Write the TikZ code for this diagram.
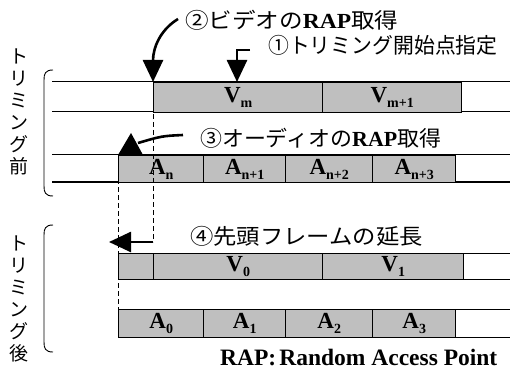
\documentclass[tikz,border=0pt]{standalone}
\usepackage{fontspec}
\usepackage{graphicx}
\setmainfont{Liberation Serif}
\newfontfamily\jp{Noto Sans CJK JP}
\usetikzlibrary{arrows.meta}
\newcommand\sbs[1]{\raisebox{-5pt}{\fontsize{14}{14}\selectfont #1}}
\newcommand\rap{{\rmfamily\bfseries RAP}}
\begin{document}
\begin{tikzpicture}[x=1pt,y=-1pt,
  rowline/.style={line width=1pt},
  frame/.style={draw, line width=1.4pt, fill=black!25, anchor=north west, inner sep=0pt,
    font=\bfseries\fontsize{23}{23}\selectfont},
  jtext/.style={font=\jp\fontsize{21.5}{21.5}\selectfont, inner sep=0pt, anchor=west},
  vlabel/.style={font=\jp\fontsize{19}{22}\selectfont, align=center, inner sep=0pt},
  bigarrow/.style={line width=2.6pt, -{Triangle[length=22pt,width=20pt]}},
  dashline/.style={line width=1pt, dash pattern=on 5pt off 3pt},
  paren/.style={line width=0.9pt}
]
\useasboundingbox (0,0) rectangle (510,371);
% row lines
\draw[rowline] (52,82) -- (510,82);
\draw[rowline] (52,112) -- (510,112);
\draw[rowline] (52,155) -- (510,155);
\draw[rowline] (52,182) -- (510,182);
\draw[rowline] (118,253) -- (510,253);
\draw[rowline] (118,279) -- (510,279);
\draw[rowline] (118,309) -- (510,309);
\draw[rowline] (118,337) -- (510,337);
% row 1: video before
\node[frame, minimum width=169pt, minimum height=30pt] (vm) at (153,82) {V\sbs{m}};
\node[frame, minimum width=139pt, minimum height=30pt] (vm1) at (322,82) {V\sbs{m+1}};
% row 2: audio before
\node[frame, minimum width=85pt, minimum height=27pt] (an) at (118,155) {A\sbs{n}};
\node[frame, minimum width=82pt, minimum height=27pt] (an1) at (203,155) {A\sbs{n+1}};
\node[frame, minimum width=87pt, minimum height=27pt] (an2) at (285,155) {A\sbs{n+2}};
\node[frame, minimum width=83pt, minimum height=27pt] (an3) at (372,155) {A\sbs{n+3}};
% row 3: video after
\node[frame, minimum width=35pt, minimum height=26pt] (ext) at (118,253) {};
\node[frame, minimum width=169pt, minimum height=26pt] (v0) at (153,253) {V\sbs{0}};
\node[frame, minimum width=141pt, minimum height=26pt] (v1) at (322,253) {V\sbs{1}};
% row 4: audio after
\node[frame, minimum width=85pt, minimum height=28pt] (a0) at (118,309) {A\sbs{0}};
\node[frame, minimum width=82pt, minimum height=28pt] (a1) at (203,309) {A\sbs{1}};
\node[frame, minimum width=87pt, minimum height=28pt] (a2) at (285,309) {A\sbs{2}};
\node[frame, minimum width=83pt, minimum height=28pt] (a3) at (372,309) {A\sbs{3}};
% dashed guides
\coordinate (d4) at (153,242);
\coordinate (d4e) at (109,242);
\draw[dashline] (vm.north west) -- (d4);
\draw[dashline] (an.north west) -- (a0.north west);
% arrows
\coordinate (s2) at (178,19);
\draw[bigarrow] (s2) .. controls (160,30) and (153,48) .. (vm.north west);
\coordinate (s1) at (250,50);
\coordinate (t1) at (237,82);
\draw[bigarrow] (s1) -- (237,50) -- (t1);
\coordinate (s3) at (183,135);
\coordinate (t3) at (138,143);
\draw[line width=2.6pt] (s3) .. controls (162,136) .. (t3);
\fill (118,155) -- (143,155) -- (131,133) -- cycle;
\draw[bigarrow] (d4) -- (d4e);
% parens
\draw[paren] (53,70) .. controls (45,70) and (44,74) .. (44,80) -- (44,186) .. controls (44,192) and (45,196) .. (53,196);
\draw[paren] (53,225) .. controls (45,225) and (44,229) .. (44,235) -- (44,342) .. controls (44,348) and (45,352) .. (53,352);
% vertical labels
\node[vlabel] (pre) at (19,112) {ト\\リ\\ミ\\ン\\グ\\前};
\node[vlabel] (post) at (19,299) {ト\\リ\\ミ\\ン\\グ\\後};
% texts
\node[jtext] (t2) at (185,20) {\scalebox{1.095}[1]{②ビデオの\rap 取得}};
\node[jtext] (tx1) at (268,45) {\scalebox{0.97}[1]{①トリミング開始点指定}};
\node[jtext] (tx3) at (200,138) {\scalebox{1.02}[1]{③オーディオの\rap 取得}};
\node[jtext] (tx4) at (190,236) {\scalebox{1.085}[1]{④先頭フレームの延長}};
\node[inner sep=0pt, anchor=west, font=\bfseries\fontsize{23.5}{23.5}\selectfont] (legend) at (220,358) {RAP:\hspace{3pt}Random Access Point};
\end{tikzpicture}
\end{document}
